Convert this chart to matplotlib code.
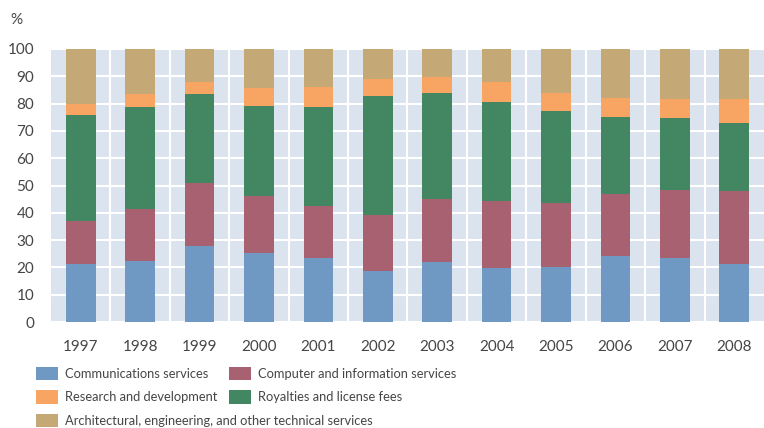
import matplotlib.pyplot as plt
from matplotlib.patches import Patch
import numpy as np

# Data: share of each service category (%), stacked bottom to top
years = ["1997", "1998", "1999", "2000", "2001", "2002",
         "2003", "2004", "2005", "2006", "2007", "2008"]

communications = [21.4, 22.5, 28.0, 25.1, 23.3, 18.5, 21.8, 19.6, 20.3, 24.0, 23.3, 21.4]
computer = [15.7, 19.0, 22.8, 21.2, 19.3, 20.8, 23.4, 24.9, 23.4, 23.0, 25.2, 26.7]
royalties = [38.8, 37.3, 32.8, 32.9, 36.2, 43.5, 38.7, 36.1, 33.6, 28.2, 26.3, 24.9]
research = [4.0, 4.8, 4.3, 6.5, 7.3, 6.2, 5.9, 7.3, 6.6, 6.9, 6.9, 8.7]
architectural = [20.1, 16.4, 12.1, 14.3, 13.9, 11.0, 10.2, 12.1, 16.1, 17.9, 18.3, 18.3]

labels = ["Communications services", "Computer and information services",
          "Royalties and license fees", "Research and development",
          "Architectural, engineering, and other technical services"]
colors = ["#6f98c3", "#a76171", "#438762", "#f8a462", "#c4a977"]

plt.rcParams['font.family'] = ['Lato', 'DejaVu Sans']
text_color = "#454545"

fig = plt.figure(figsize=(7.64, 4.28), dpi=100)
ax = fig.add_axes([51 / 764, 1 - 322 / 428, 713 / 764, 273 / 428])
ax.set_facecolor("#dbe3ef")

x = np.arange(len(years))
series = [communications, computer, royalties, research, architectural]
bottom = np.zeros(len(years))
handles = []
for vals, lab, col in zip(series, labels, colors):
    ax.bar(x, vals, width=0.5, bottom=bottom, color=col, zorder=3)
    bottom += np.array(vals)
    handles.append(Patch(facecolor=col, label=lab))

ax.set_xlim(-0.5, 11.5)
ax.set_ylim(0, 100)
ax.set_yticks(range(0, 101, 10))
ax.set_xticks(x)
ax.set_xticklabels(years)
ax.set_xticks(x[:-1] + 0.5, minor=True)
ax.grid(True, which='major', axis='y', color='white', linewidth=1.5, zorder=0)
ax.grid(True, which='minor', axis='x', color='white', linewidth=1.5, zorder=0)
ax.set_axisbelow(True)
for s in ax.spines.values():
    s.set_visible(False)
ax.tick_params(which='both', length=0)
ax.tick_params(axis='y', pad=12, labelsize=11, labelcolor=text_color)
ax.tick_params(axis='x', pad=13, labelsize=11, labelcolor=text_color)

fig.text(10 / 764, 1 - 20 / 428, "%", fontsize=11, color=text_color, va='center')

# Legend laid out as two columns below the axes
leg_kw = dict(loc='upper left', frameon=False, fontsize=9.3, handlelength=1.72,
              handleheight=1.2, handletextpad=0.55, labelspacing=0.78,
              borderaxespad=0, borderpad=0, labelcolor=text_color)
fig.legend(handles=[handles[0], handles[3], handles[4]],
           bbox_to_anchor=(36 / 764, 1 - 367 / 428), **leg_kw)
fig.legend(handles=[handles[1], handles[2]],
           bbox_to_anchor=(229 / 764, 1 - 367 / 428), **leg_kw)

fig.savefig("out.png", dpi=100)
